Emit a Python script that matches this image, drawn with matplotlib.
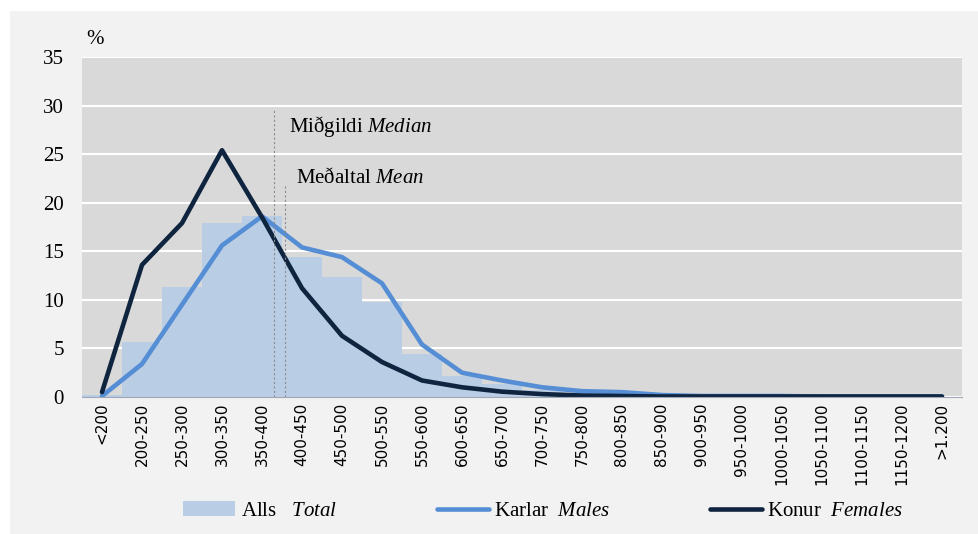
import matplotlib.pyplot as plt
from matplotlib.patches import Rectangle

plt.rcParams['mathtext.fontset'] = 'custom'
plt.rcParams['mathtext.rm'] = 'Liberation Serif'
plt.rcParams['mathtext.it'] = 'Liberation Serif:italic'

# income brackets (thousand ISK per month)
categories = ['<200', '200-250', '250-300', '300-350', '350-400', '400-450',
              '450-500', '500-550', '550-600', '600-650', '650-700', '700-750',
              '750-800', '800-850', '850-900', '900-950', '950-1000',
              '1000-1050', '1050-1100', '1100-1150', '1150-1200', '>1.200']
total = [0.2, 5.7, 11.3, 17.9, 18.6, 14.4, 12.4, 9.8, 4.4, 2.2, 1.3, 0.7,
         0.4, 0.3, 0.1, 0.05, 0.05, 0.05, 0.05, 0.05, 0.05, 0.05]
males = [0.1, 3.4, 9.5, 15.6, 18.6, 15.4, 14.4, 11.7, 5.4, 2.5, 1.7, 1.0,
         0.6, 0.5, 0.2, 0.1, 0.1, 0.1, 0.05, 0.05, 0.05, 0.05]
females = [0.5, 13.6, 17.9, 25.4, 18.5, 11.2, 6.3, 3.6, 1.7, 1.0, 0.55, 0.3,
           0.15, 0.1, 0.05, 0.05, 0.05, 0.05, 0.05, 0.05, 0.05, 0.05]
median_value = 390
mean_value = 404


def bracket_pos(v):
    # position on the category axis, 200-250 centred at 1
    return 0.5 + (v - 200) / 50.0


fig = plt.figure(figsize=(9.79, 5.34), dpi=100, facecolor='white')
fig.patches.append(Rectangle((10 / 979, 0), 1, 1 - 11 / 534,
                             transform=fig.transFigure, facecolor='#f2f2f2',
                             edgecolor='none', zorder=-10))

ax = fig.add_axes([82 / 979, 1 - 397 / 534, 880 / 979, 340 / 534])
ax.set_facecolor('#d9d9d9')

x = list(range(len(categories)))
bars = ax.bar(x, total, width=1.0, color='#b9cde5', label='Alls   $\\mathit{Total}$', zorder=2)
l_m, = ax.plot(x, males, color='#558ed5', lw=3.3, solid_capstyle='round',
               label='Karlar  $\\mathit{Males}$', zorder=3)
l_f, = ax.plot(x, females, color='#0f243e', lw=3.3, solid_capstyle='round',
               label='Konur  $\\mathit{Females}$', zorder=4)

xm = bracket_pos(median_value)
xa = bracket_pos(mean_value)
ax.plot([xm, xm], [0, 29.5], color='#8c8c8c', lw=0.8, ls=(0, (2, 2)), zorder=5)
ax.plot([xa, xa], [0, 21.8], color='#8c8c8c', lw=0.8, ls=(0, (2, 2)), zorder=5)
ax.text(xm + 0.37, 27.8, 'Miðgildi $\\mathit{Median}$', fontsize=15,
        family='Liberation Serif', va='center', ha='left')
ax.text(xa + 0.28, 22.5, 'Meðaltal $\\mathit{Mean}$', fontsize=15,
        family='Liberation Serif', va='center', ha='left')

ax.set_xlim(-0.5, len(categories) - 0.5)
ax.set_ylim(0, 35)
ax.set_yticks(range(0, 36, 5))
ax.set_xticks(x)
ax.set_xticklabels(categories, rotation=90, fontsize=11, family='DejaVu Sans')
for lab in ax.get_yticklabels():
    lab.set_family('Liberation Serif')
    lab.set_fontsize(15)
ax.tick_params(axis='y', length=0, pad=13)
ax.tick_params(axis='x', length=0, pad=4)
ax.grid(axis='y', color='white', lw=1.5, zorder=1)
ax.set_axisbelow(True)
for s in ['top', 'right', 'left']:
    ax.spines[s].set_visible(False)
ax.spines['bottom'].set_color('#a0a8b8')
ax.spines['bottom'].set_zorder(6)

fig.text(95 / 979, 1 - 40 / 534, '%', fontsize=15, family='Liberation Serif',
         ha='center', va='center')

ax.legend(handles=[bars, l_m, l_f], loc='center', bbox_to_anchor=(0.555, 0.043),
          bbox_transform=fig.transFigure, ncol=3, frameon=False,
          prop={'family': 'Liberation Serif', 'size': 15},
          handlelength=2.5, handletextpad=0.25, columnspacing=4.8, handleheight=0.7)

fig.savefig('out.png', dpi=100, facecolor=fig.get_facecolor())
